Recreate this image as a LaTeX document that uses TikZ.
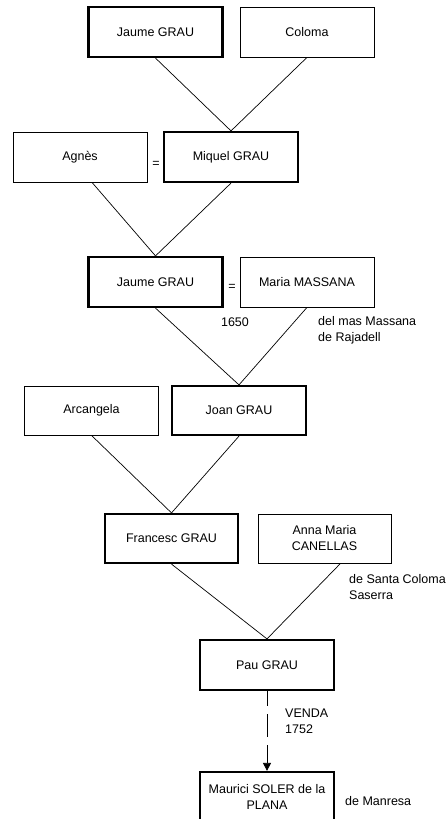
\documentclass[tikz,border=0pt]{standalone}
\usepackage{fontspec}
\setmainfont{Liberation Sans}
\usetikzlibrary{arrows.meta}
\begin{document}
\begin{tikzpicture}[x=1pt,y=-1pt,
  every node/.style={font=\fontsize{12.5}{16}\selectfont, inner sep=0pt},
  person/.style={draw, line width=0.8pt, minimum width=134pt, minimum height=50pt, align=center},
  main/.style={person, line width=2.2pt},
  link/.style={line width=0.7pt},
  side/.style={anchor=north west, align=left}]
\useasboundingbox (0,0) rectangle (446,819);
\node[main]   (jaume1)  at (155.5,32)  {Jaume GRAU};
\node[person] (coloma)  at (307,32)    {Coloma};
\node[person] (agnes)   at (80,157)    {Agnès};
\node[main]   (miquel)  at (231,157)   {Miquel GRAU};
\node[main]   (jaume2)  at (155.5,282) {Jaume GRAU};
\node[person] (maria)   at (307,282)   {Maria MASSANA};
\node[person, minimum height=49pt] (arcangela) at (91.5,410.5) {Arcangela};
\node[main, minimum height=49pt]   (joan)      at (239,410.5)  {Joan GRAU};
\node[main, minimum width=133pt, minimum height=49pt]   (francesc) at (171.5,538.5) {Francesc GRAU};
\node[person, minimum width=133pt, minimum height=49pt] (anna)     at (324.5,538.5) {Anna Maria\\CANELLAS};
\node[main]   (pau)     at (267,665)   {Pau GRAU};
\node[main]   (maurici) at (267,797)   {Maurici SOLER de la\\PLANA};

\node (eq1) at (156,164) {=};
\node (eq2) at (232,287) {=};
\node (y1650) at (235,322) {1650};
\node[side] (massana) at (318,316) {del mas Massana\\de Rajadell};
\node[side] (santa) at (349,574) {de Santa Coloma\\Saserra};
\node[side] (venda) at (285,709) {VENDA\\1752};
\node[anchor=west] (manresa) at (345,801) {de Manresa};

\draw[link] (jaume1.south) -- (miquel.north);
\draw[link] (coloma.south) -- (miquel.north);
\draw[link] ([xshift=12pt]agnes.south) -- (jaume2.north);
\draw[link] (miquel.south) -- (jaume2.north);
\draw[link] (jaume2.south) -- (joan.north);
\draw[link] (maria.south) -- (joan.north);
\draw[link] (arcangela.south) -- (francesc.north);
\draw[link] (joan.south) -- (francesc.north);
\draw[link] (francesc.south) -- (pau.north);
\draw[link] ([xshift=16pt]anna.south) -- (pau.north);
\draw[link, dash pattern=on 23pt off 8pt, dash phase=8pt, -{Triangle[length=8pt,width=8pt]}] (pau.south) -- (maurici.north);
\end{tikzpicture}
\end{document}
